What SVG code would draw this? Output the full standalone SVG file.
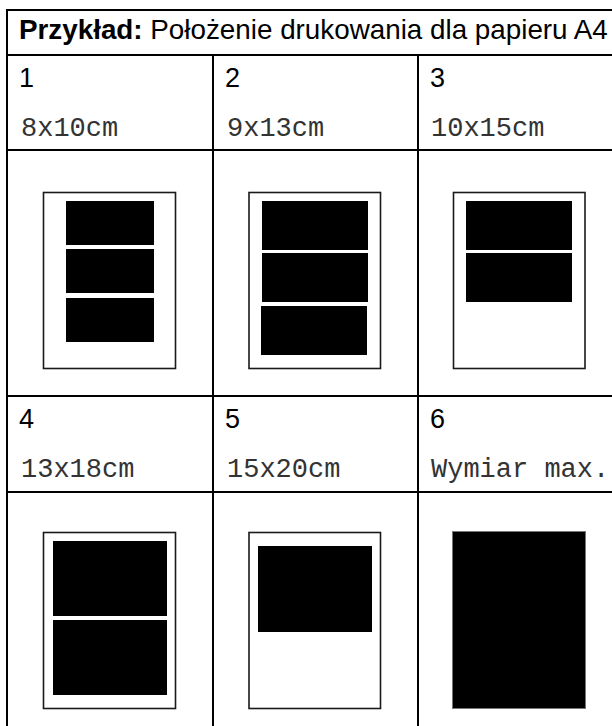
<svg xmlns="http://www.w3.org/2000/svg" width="612" height="726" viewBox="0 0 612 726">
  <style>
    .grid { stroke: #000; stroke-width: 2; fill: none; }
    .page { fill: #fff; stroke: #1a1a1a; stroke-width: 1.6; }
    .photo { fill: #000; }
    .hdr { font-family: "Liberation Sans", Arial, sans-serif; font-size: 27.8px; fill: #000; }
    .num { font-family: "Liberation Sans", Arial, sans-serif; font-size: 27px; fill: #000; }
    .mono { font-family: "Liberation Mono", "DejaVu Sans Mono", monospace; font-size: 27px; fill: #333; }
  </style>
  <rect width="612" height="726" fill="#fff"/>
  <g id="connectors">
    <line class="grid" x1="6" y1="10" x2="612" y2="10"/>
    <line class="grid" x1="7" y1="9" x2="7" y2="726"/>
    <line class="grid" x1="6" y1="55" x2="612" y2="55"/>
    <line class="grid" x1="6" y1="150" x2="612" y2="150"/>
    <line class="grid" x1="6" y1="396" x2="612" y2="396"/>
    <line class="grid" x1="6" y1="492" x2="612" y2="492"/>
    <line class="grid" x1="213" y1="55" x2="213" y2="726"/>
    <line class="grid" x1="418" y1="55" x2="418" y2="726"/>
  </g>
  <g id="header">
    <text class="hdr" x="19" y="39"><tspan font-weight="bold">Przykład:</tspan> Położenie drukowania dla papieru A4</text>
  </g>
  <g id="cell1">
    <text class="num" x="19" y="87">1</text>
    <text class="mono" x="21" y="136">8x10cm</text>
    <rect class="page" x="43.5" y="192.5" width="132" height="176"/>
    <rect class="photo" x="66" y="201" width="88" height="44"/>
    <rect class="photo" x="66" y="249" width="88" height="44"/>
    <rect class="photo" x="66" y="298" width="88" height="44"/>
  </g>
  <g id="cell2">
    <text class="num" x="225" y="87">2</text>
    <text class="mono" x="227" y="136">9x13cm</text>
    <rect class="page" x="249" y="192.5" width="131.5" height="176"/>
    <rect class="photo" x="262" y="201" width="106" height="49"/>
    <rect class="photo" x="262" y="253" width="106" height="49"/>
    <rect class="photo" x="261" y="306" width="106" height="49"/>
  </g>
  <g id="cell3">
    <text class="num" x="430" y="87">3</text>
    <text class="mono" x="431" y="136">10x15cm</text>
    <rect class="page" x="453.5" y="192.5" width="131.5" height="176"/>
    <rect class="photo" x="466" y="201" width="106" height="49"/>
    <rect class="photo" x="466" y="253" width="106" height="49"/>
  </g>
  <g id="cell4">
    <text class="num" x="19" y="428">4</text>
    <text class="mono" x="21" y="477">13x18cm</text>
    <rect class="page" x="43.5" y="532.5" width="132" height="176"/>
    <rect class="photo" x="53" y="541" width="114" height="75"/>
    <rect class="photo" x="53" y="620" width="114" height="75"/>
  </g>
  <g id="cell5">
    <text class="num" x="225" y="428">5</text>
    <text class="mono" x="227" y="477">15x20cm</text>
    <rect class="page" x="249" y="532.5" width="131.5" height="176"/>
    <rect class="photo" x="258" y="546" width="114" height="86"/>
  </g>
  <g id="cell6">
    <text class="num" x="430" y="428">6</text>
    <text class="mono" x="431" y="477">Wymiar max.</text>
    <rect class="photo" x="452.5" y="531.5" width="133" height="177" stroke="#777" stroke-width="1"/>
  </g>
</svg>
